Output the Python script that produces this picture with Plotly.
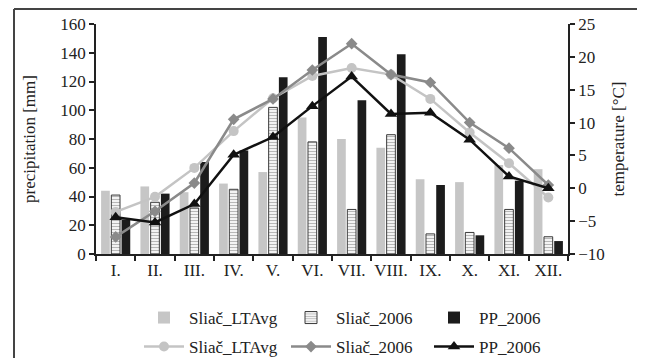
import plotly.graph_objects as go

months = ["I.", "II.", "III.", "IV.", "V.", "VI.", "VII.", "VIII.", "IX.", "X.", "XI.", "XII."]

# precipitation [mm]
prec_sliac_ltavg = [44, 47, 43, 49, 57, 95, 80, 74, 52, 50, 62, 59]
prec_sliac_2006 = [41, 36, 32, 45, 102, 78, 31, 83, 14, 15, 31, 12]
prec_pp_2006 = [24, 42, 64, 72, 123, 151, 107, 139, 48, 13, 51, 9]

# temperature [°C]
temp_sliac_ltavg = [-3.6, -1.3, 3.1, 8.7, 13.7, 17.1, 18.3, 17.3, 13.6, 8.5, 3.8, -1.4]
temp_sliac_2006 = [-7.4, -3.5, 0.8, 10.5, 13.6, 18.0, 22.0, 17.3, 16.1, 10.0, 6.1, 0.5]
temp_pp_2006 = [-4.4, -5.2, -2.4, 5.1, 7.8, 12.5, 17.0, 11.3, 11.5, 7.4, 1.8, 0.0]

prec_ticks = [0, 20, 40, 60, 80, 100, 120, 140, 160]
temp_ticks = [-10, -5, 0, 5, 10, 15, 20, 25]

FONT = "Liberation Serif"
AX = "#222222"

# page body margin offset (browser default)
OFF = 8
W, H = 645, 358
# plot area in screen pixels
SX0, SX1, SY0, SY1 = 96, 568, 24, 254
L = SX0 - OFF
T = SY0 - OFF
R = W - (SX1 - OFF)
B = H - (SY1 - OFF)
pw, ph = SX1 - SX0, SY1 - SY0


def px(x):
    return (x - SX0) / pw


def py(y):
    return (SY1 - y) / ph


fig = go.Figure()

fig.add_trace(go.Bar(
    x=months, y=prec_sliac_ltavg, name="Sliač_LTAvg",
    marker=dict(color="#c6c6c6", line=dict(width=0)),
    legend="legend",
))
fig.add_trace(go.Bar(
    x=months, y=prec_sliac_2006, name="Sliač_2006",
    marker=dict(color="white", line=dict(color="#3a3a3a", width=1),
                pattern=dict(shape="-", fgcolor="#707070", bgcolor="white", size=3, solidity=0.45)),
    legend="legend2",
))
fig.add_trace(go.Bar(
    x=months, y=prec_pp_2006, name="PP_2006",
    marker=dict(color="#1c1c1c", line=dict(width=0)),
    legend="legend3",
))

fig.add_trace(go.Scatter(
    x=months, y=temp_sliac_ltavg, name="Sliač_LTAvg", yaxis="y2",
    mode="lines+markers",
    line=dict(color="#c4c4c4", width=2.5),
    marker=dict(symbol="circle", size=10, color="#c4c4c4"),
    legend="legend4",
))
fig.add_trace(go.Scatter(
    x=months, y=temp_sliac_2006, name="Sliač_2006", yaxis="y2",
    mode="lines+markers",
    line=dict(color="#8a8a8a", width=2.5),
    marker=dict(symbol="diamond", size=9, color="#8a8a8a"),
    legend="legend5",
))
fig.add_trace(go.Scatter(
    x=months, y=temp_pp_2006, name="PP_2006", yaxis="y2",
    mode="lines+markers",
    line=dict(color="#111111", width=2.5),
    marker=dict(symbol="triangle-up", size=11, color="#111111"),
    legend="legend6",
))

legend_x = [139, 286, 429]
legend_rows = [318, 347]


def leg(xpix, ypix):
    return dict(
        orientation="h", x=px(xpix), y=py(ypix), xanchor="left", yanchor="middle",
        font=dict(family=FONT, size=17, color="#222222"), bgcolor="rgba(0,0,0,0)",
        itemwidth=40,
    )


axis_common = dict(
    showline=True, linecolor=AX, linewidth=1.5,
    ticks="outside", ticklen=5, tickcolor=AX, tickwidth=1.5,
    showgrid=False, zeroline=False,
    tickfont=dict(family=FONT, size=17, color="#222222"),
)

inner_ticks = dict(
    showline=False, ticks="inside", ticklen=5, tickcolor=AX, tickwidth=1.5,
    showgrid=False, zeroline=False, showticklabels=False,
)

# outer frame (screen pixels)
FX0, FX1, FY0, FY1 = 14, 641, OFF + 1, 362
frame_style = dict(color="#444444", width=2)
frame = [
    dict(type="line", xref="paper", yref="paper", x0=px(FX0), x1=px(FX1), y0=py(FY0), y1=py(FY0), line=frame_style),
    dict(type="line", xref="paper", yref="paper", x0=px(FX0), x1=px(FX0), y0=py(FY0), y1=py(FY1), line=frame_style),
    dict(type="line", xref="paper", yref="paper", x0=px(FX1), x1=px(FX1), y0=py(FY0), y1=py(FY1), line=frame_style),
]

fig.update_layout(
    width=W, height=H,
    margin=dict(l=L, r=R, t=T, b=B, autoexpand=False),
    paper_bgcolor="white", plot_bgcolor="white",
    font=dict(family=FONT, size=17, color="#222222"),
    barmode="group", bargap=0.22, bargroupgap=0.15,
    xaxis=dict(
        **axis_common,
        range=[-0.5, 11.5],
        tickson="boundaries", tickangle=0, automargin=False,
    ),
    yaxis=dict(
        **axis_common,
        range=[0, 160], tickvals=prec_ticks, automargin=False,
        title=dict(text="precipitation [mm]", font=dict(family=FONT, size=17), standoff=20),
    ),
    yaxis2=dict(
        **axis_common,
        range=[-10, 25], tickvals=temp_ticks, automargin=False,
        overlaying="y", side="right",
        title=dict(text="temperature [°C]", font=dict(family=FONT, size=17), standoff=8),
    ),
    yaxis3=dict(**inner_ticks, range=[0, 160], tickvals=prec_ticks, overlaying="y", side="left"),
    yaxis4=dict(**inner_ticks, range=[-10, 25], tickvals=temp_ticks, overlaying="y", side="right"),
    xaxis2=dict(**inner_ticks, range=[-0.5, 11.5], tickvals=[i - 0.5 for i in range(13)],
                overlaying="x", anchor="y"),
    legend=leg(legend_x[0], legend_rows[0]),
    legend2=leg(legend_x[1], legend_rows[0]),
    legend3=leg(legend_x[2], legend_rows[0]),
    legend4=leg(legend_x[0], legend_rows[1]),
    legend5=leg(legend_x[1], legend_rows[1]),
    legend6=leg(legend_x[2], legend_rows[1]),
    shapes=frame,
    showlegend=True,
)

fig.write_html("out.html")
